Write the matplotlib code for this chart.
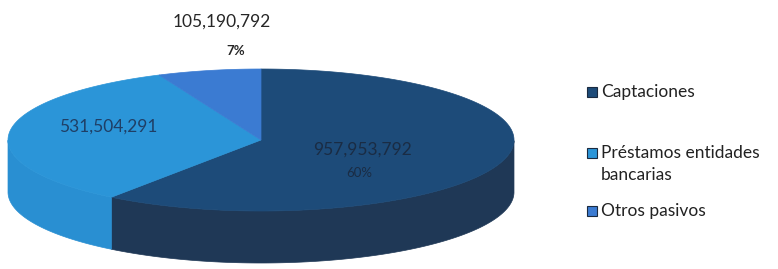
import numpy as np
import matplotlib

matplotlib.use("Agg")
import matplotlib.pyplot as plt
from matplotlib.patches import Polygon, Rectangle

# datos del gráfico
categorias = ["Captaciones", "Préstamos entidades\nbancarias", "Otros pasivos"]
valores = [957953792, 531504291, 105190792]

color_sup = ["#1d4b79", "#2b95d8", "#3b7bd2"]
color_lat = ["#1f3856", "#298fd2", "#3470c0"]

plt.rcParams["font.family"] = ["Lato", "DejaVu Sans"]

fig = plt.figure(figsize=(7.78, 2.69), dpi=100)
ax = fig.add_axes([0, 0, 1, 1])
ax.set_xlim(0, 778)
ax.set_ylim(269, 0)
ax.axis("off")

# geometría del pastel 3D (en píxeles)
cx, cy, rx, ry, prof = 261, 140, 253, 71, 52


def punto(t, dy=0.0):
    return cx + rx * np.cos(t), cy - ry * np.sin(t) + dy


total = float(sum(valores))
fracs = [v / total for v in valores]
# empieza a las 12 y gira en sentido horario
bordes = [np.deg2rad(90 - 360 * s) for s in np.concatenate([[0], np.cumsum(fracs)])]

# caras laterales (solo la mitad frontal)
for i in range(len(valores)):
    tt = np.linspace(bordes[i + 1], bordes[i], 400)
    tt = np.arctan2(np.sin(tt), np.cos(tt))
    tt = np.sort(tt[np.sin(tt) <= 0])
    if len(tt) < 2:
        continue
    xs, ys = punto(tt)
    xb, yb = punto(tt[::-1], prof)
    pts = np.column_stack([np.concatenate([xs, xb]), np.concatenate([ys, yb])])
    ax.add_patch(Polygon(pts, closed=True, facecolor=color_lat[i], edgecolor=color_lat[i], lw=0.5))

# caras superiores
for i in range(len(valores)):
    tt = np.linspace(bordes[i], bordes[i + 1], 400)
    xs, ys = punto(tt)
    pts = np.column_stack([np.concatenate([[cx], xs]), np.concatenate([[cy], ys])])
    ax.add_patch(Polygon(pts, closed=True, facecolor=color_sup[i], edgecolor=color_sup[i], lw=0.5))

# etiquetas de datos
ax.text(363, 150, f"{valores[0]:,}", ha="center", va="center", fontsize=12.5, color="#1a2c44")
ax.text(359, 173, f"{fracs[0]:.0%}", ha="center", va="center", fontsize=9.5, color="#1a2c44")
ax.text(108, 127, f"{valores[1]:,}", ha="center", va="center", fontsize=12.5, color="#1f3f66")
ax.text(222, 22, f"{valores[2]:,}", ha="center", va="center", fontsize=12.5, color="#262626")
ax.text(236, 51, f"{fracs[2]:.0%}", ha="center", va="center", fontsize=9.5, color="#262626",
        fontweight="bold")

# leyenda
ley_y = [92, 153, 211]
for i, nombre in enumerate(categorias):
    y = ley_y[i]
    ax.add_patch(Rectangle((587, y - 5), 10, 10, facecolor=color_sup[i], edgecolor="#1a2a40", lw=0.8))
    ax.text(601, y - 8, nombre, ha="left", va="top", fontsize=12.5, color="#222222",
            linespacing=1.45)

fig.savefig("out.png", dpi=100)
